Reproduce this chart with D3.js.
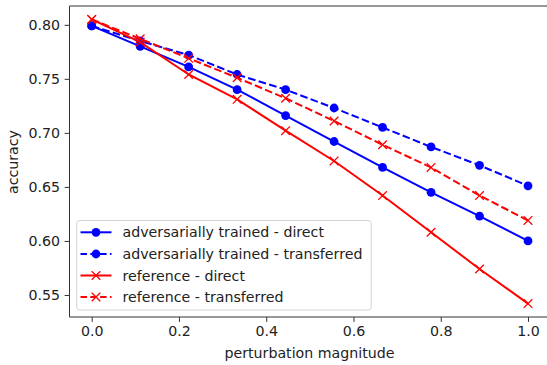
<!DOCTYPE html>
<html><head><meta charset="utf-8">
<script src="https://cdn.jsdelivr.net/npm/d3@7/dist/d3.min.js"></script>
<style>html,body{margin:0;padding:0;background:#fff;}svg{display:block;}text{font-family:"DejaVu Sans",sans-serif;}</style>
</head><body>
<script>
const xValues = [0, 1/9, 2/9, 3/9, 4/9, 5/9, 6/9, 7/9, 8/9, 1];
const advDirect = [0.799, 0.780, 0.761, 0.740, 0.716, 0.692, 0.668, 0.645, 0.623, 0.600];
const advTransferred = [0.799, 0.785, 0.772, 0.754, 0.740, 0.723, 0.705, 0.687, 0.670, 0.651];
const refDirect = [0.805, 0.784, 0.754, 0.731, 0.702, 0.674, 0.642, 0.608, 0.574, 0.542];
const refTransferred = [0.805, 0.787, 0.769, 0.751, 0.732, 0.711, 0.689, 0.668, 0.642, 0.619];
const xTicks = [0.0, 0.2, 0.4, 0.6, 0.8, 1.0];
const yTicks = [0.55, 0.60, 0.65, 0.70, 0.75, 0.80];
const seriesNames = ["adversarially trained - direct", "adversarially trained - transferred", "reference - direct", "reference - transferred"];

(function () {
const W = 547, H = 365;
const mLeft = 69.5, mTop = 6, mBottom = 317;
const x = d3.scaleLinear().domain([-0.0509, 1.0509]).range([mLeft, mLeft + 436.3 * 1.1018]);
const y = d3.scaleLinear().domain([0.5296, 0.8174]).range([mBottom, mTop]);
const FS = 14.2;

const svg = d3.select("body").append("svg").attr("width", W).attr("height", H);

const series = [
  {name: seriesNames[0], vals: advDirect, color: "#0000ff", dash: null, marker: "o"},
  {name: seriesNames[1], vals: advTransferred, color: "#0000ff", dash: "7.7,3.3", marker: "o"},
  {name: seriesNames[2], vals: refDirect, color: "#ff0000", dash: null, marker: "x"},
  {name: seriesNames[3], vals: refTransferred, color: "#ff0000", dash: "7.7,3.3", marker: "x"}
];

const plot = svg.append("g");
const line = d3.line().x((d, i) => x(xValues[i])).y(d => y(d));

function drawMarker(g, m, cx, cy, color) {
  if (m === "o") {
    g.append("circle").attr("cx", cx).attr("cy", cy).attr("r", 4.4).attr("fill", color);
  } else {
    const s = 4.3;
    g.append("path").attr("d", `M${cx-s},${cy-s}L${cx+s},${cy+s}M${cx-s},${cy+s}L${cx+s},${cy-s}`)
      .attr("stroke", color).attr("stroke-width", 1.3).attr("fill", "none");
  }
}

series.forEach(s => {
  const g = plot.append("g");
  g.append("path").datum(s.vals).attr("d", line).attr("fill", "none")
    .attr("stroke", s.color).attr("stroke-width", 2.0)
    .attr("stroke-dasharray", s.dash);
  s.vals.forEach((v, i) => drawMarker(g, s.marker, x(xValues[i]), y(v), s.color));
});

const axCol = "#333";
svg.append("line").attr("x1", mLeft).attr("x2", mLeft).attr("y1", mTop).attr("y2", mBottom).attr("stroke", axCol).attr("stroke-width", 1);
svg.append("line").attr("x1", mLeft).attr("x2", W).attr("y1", mTop).attr("y2", mTop).attr("stroke", axCol).attr("stroke-width", 1);
svg.append("line").attr("x1", mLeft).attr("x2", W).attr("y1", mBottom).attr("y2", mBottom).attr("stroke", axCol).attr("stroke-width", 1);

const xAxis = d3.axisBottom(x).tickValues(xTicks).tickFormat(d3.format(".1f")).tickSize(4.9).tickPadding(4);
const gx = svg.append("g").attr("transform", `translate(0,${mBottom})`).call(xAxis);
gx.select(".domain").remove();
gx.selectAll("line").attr("stroke", axCol);
gx.selectAll("text").attr("font-size", FS).attr("fill", "#222").attr("font-family", "DejaVu Sans");

const yAxis = d3.axisLeft(y).tickValues(yTicks).tickFormat(d3.format(".2f")).tickSize(4.9).tickPadding(4.5);
const gy = svg.append("g").attr("transform", `translate(${mLeft},0)`).call(yAxis);
gy.select(".domain").remove();
gy.selectAll("line").attr("stroke", axCol);
gy.selectAll("text").attr("font-size", FS).attr("fill", "#222").attr("font-family", "DejaVu Sans");

svg.append("text").attr("x", 309.5).attr("y", 357.5).attr("text-anchor", "middle")
  .attr("font-size", FS).attr("fill", "#222").text("perturbation magnitude");
svg.append("text").attr("transform", "translate(18,162) rotate(-90)").attr("text-anchor", "middle")
  .attr("font-size", FS).attr("fill", "#222").text("accuracy");

const lg = svg.append("g");
lg.append("rect").attr("x", 76.7).attr("y", 220.5).attr("width", 294.5).attr("height", 89.5)
  .attr("rx", 3).attr("fill", "#fff").attr("fill-opacity", 0.8).attr("stroke", "#d4d4d4").attr("stroke-width", 1);
const rowY = [232.3, 254, 275.5, 297];
series.forEach((s, i) => {
  const yy = rowY[i];
  lg.append("line").attr("x1", 80.5).attr("x2", 111.5).attr("y1", yy).attr("y2", yy)
    .attr("stroke", s.color).attr("stroke-width", 2.0).attr("stroke-dasharray", s.dash ? "6.5,3.3" : null);
  drawMarker(lg, s.marker, 96, yy, s.color);
  lg.append("text").attr("x", 122.5).attr("y", yy).attr("dy", "0.36em")
    .attr("font-size", FS).attr("fill", "#222").text(s.name);
});
})();
</script>
</body></html>
